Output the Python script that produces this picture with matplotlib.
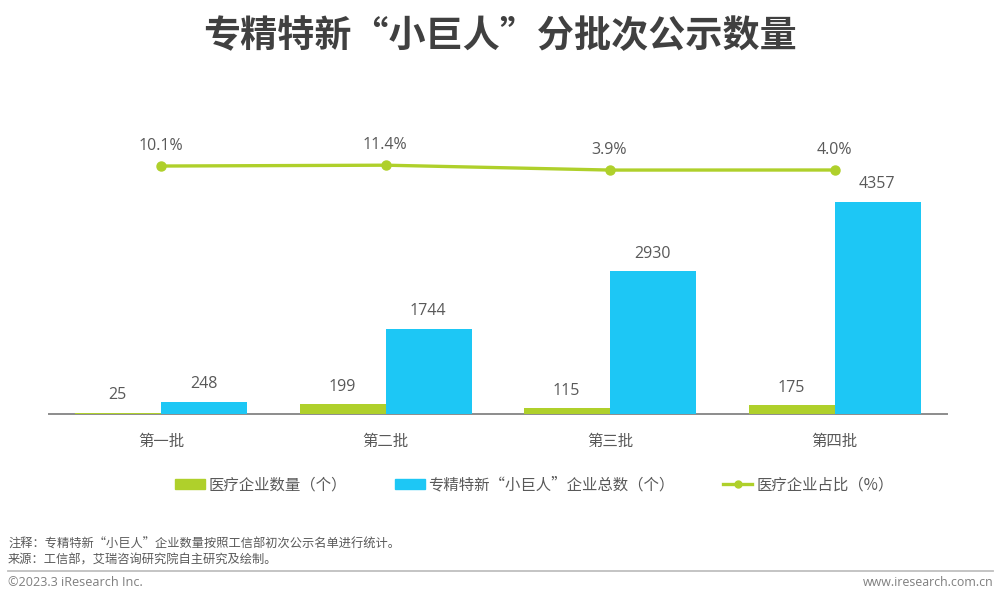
import matplotlib.pyplot as plt
from matplotlib.lines import Line2D
from matplotlib.patches import Patch
import numpy as np

plt.rcParams['font.family'] = ['Noto Sans CJK SC', 'DejaVu Sans']
LATIN = ['Open Sans', 'Noto Sans CJK SC']

batches = ['第一批', '第二批', '第三批', '第四批']
med_counts = [25, 199, 115, 175]
total_counts = [248, 1744, 2930, 4357]
med_share = [10.1, 11.4, 3.9, 4.0]

GREEN = '#AFD02B'
BLUE = '#1DC7F5'
TEXT = '#595959'
W, H = 1000, 602

fig = plt.figure(figsize=(W / 100, H / 100), dpi=100)
# axes box in pixels: x 49-947, y 100-414
ax = fig.add_axes([49 / W, 1 - 414 / H, 898 / W, 314 / H])
x = np.arange(4)
bw = 0.383
ax.bar(x - bw / 2, med_counts, bw, color=GREEN, zorder=3)
ax.bar(x + bw / 2, total_counts, bw, color=BLUE, zorder=3)
ax.set_xlim(-0.5, 3.5)
ax.set_ylim(0, 314 / 0.04866)
ax.set_yticks([])
ax.set_xticks(x)
ax.set_xticklabels(batches, fontsize=11.1, color=TEXT)
ax.tick_params(axis='x', length=0, pad=14)
for s in ['top', 'left', 'right']:
    ax.spines[s].set_visible(False)
ax.spines['bottom'].set_color('#8C8C8C')
ax.spines['bottom'].set_linewidth(1.4)

for i in x:
    ax.annotate(str(med_counts[i]), (i - bw / 2, med_counts[i]), xytext=(-0.5, 7),
                textcoords='offset points', ha='center', va='bottom', fontsize=11.5,
                color=TEXT, family=LATIN)
    ax.annotate(str(total_counts[i]), (i + bw / 2, total_counts[i]), xytext=(-0.5, 7),
                textcoords='offset points', ha='center', va='bottom', fontsize=11.5,
                color=TEXT, family=LATIN)

# share line sits on its own scale above the bars
ax2 = ax.twinx()
ax2.plot(x, med_share, color=GREEN, lw=2.4, marker='o', ms=6.5)
ax2.set_ylim((172.6 - 414) / 0.65, (172.6 - 100) / 0.65)
ax2.set_yticks([])
for s in ax2.spines.values():
    s.set_visible(False)
for i in x:
    ax2.annotate(f'{med_share[i]}%', (i, med_share[i]), xytext=(-0.5, 9),
                 textcoords='offset points', ha='center', va='bottom', fontsize=11.5,
                 color=TEXT, family=LATIN)

handles = [Patch(color=GREEN), Patch(color=BLUE),
           Line2D([0], [0], color=GREEN, lw=2.4, marker='o', ms=5)]
labels = ['医疗企业数量（个）', '专精特新“小巨人”企业总数（个）', '医疗企业占比（%）']
fig.legend(handles, labels, ncol=3, loc='center', bbox_to_anchor=(534.5 / W, 1 - 485 / H), frameon=False,
           fontsize=11.1, labelcolor=TEXT, handlelength=1.9, handleheight=0.6,
           handletextpad=0.25, columnspacing=3.14)

fig.text(0.5, 1 - 36.5 / H, '专精特新“小巨人”分批次公示数量', ha='center', va='center',
         fontsize=26.7, fontweight='bold', color='#404040')

fig.text(8 / W, 1 - 544.5 / H, '注释：专精特新“小巨人”企业数量按照工信部初次公示名单进行统计。',
         ha='left', va='center', fontsize=8.8, color=TEXT)
fig.text(8 / W, 1 - 560.5 / H, '来源：工信部，艾瑞咨询研究院自主研究及绘制。',
         ha='left', va='center', fontsize=8.8, color=TEXT)
fig.add_artist(Line2D([8 / W, 993 / W], [1 - 571 / H] * 2, color='#BFBFBF', lw=1.3))
fig.text(8 / W, 1 - 583 / H, '©2023.3 iResearch Inc.', ha='left', va='center', fontsize=9.1,
         color='#7F7F7F', family=LATIN)
fig.text(993 / W, 1 - 583 / H, 'www.iresearch.com.cn', ha='right', va='center', fontsize=8.9,
         color='#7F7F7F', family=LATIN)

fig.savefig('out.png', dpi=100)
